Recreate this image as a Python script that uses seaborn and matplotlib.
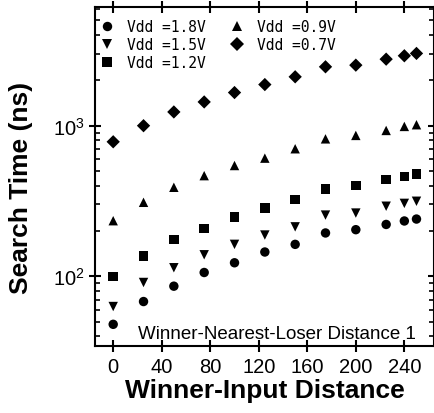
import matplotlib
matplotlib.use("Agg")
import matplotlib.pyplot as plt
import matplotlib.ticker as mticker
import pandas as pd
import seaborn as sns

# values (log y axis, ns)
distance = [0, 25, 50, 75, 100, 125, 150, 175, 200, 225, 240, 250]
vdd_labels = ["Vdd =1.8V", "Vdd =1.5V", "Vdd =1.2V", "Vdd =0.9V", "Vdd =0.7V"]
t_18 = [48, 68, 86, 106, 123, 145, 163, 194, 204, 221, 233, 240]
t_15 = [63, 91, 114, 139, 163, 188, 213, 255, 263, 292, 305, 315]
t_12 = [100, 136, 175, 208, 248, 284, 323, 380, 400, 438, 462, 479]
t_09 = [234, 310, 390, 466, 544, 609, 703, 818, 862, 930, 989, 1015]
t_07 = [782, 1000, 1234, 1438, 1660, 1876, 2112, 2461, 2524, 2766, 2913, 3020]

series = [t_18, t_15, t_12, t_09, t_07]
rows = []
for lab, vals in zip(vdd_labels, series):
    for d, v in zip(distance, vals):
        rows.append({"dist": d, "time": v, "vdd": lab})
df = pd.DataFrame(rows)

sns.set_style("ticks")
plt.rcParams["font.family"] = ["Liberation Sans", "DejaVu Sans"]
plt.rcParams["mathtext.default"] = "regular"
plt.rcParams["text.color"] = "black"
plt.rcParams["axes.labelcolor"] = "black"

fig = plt.figure(figsize=(4.34, 4.14), dpi=100)
ax = fig.add_axes([95 / 434, 1 - 347.3 / 414, 1.0 - 95 / 434 + 0.001, (347.3 - 8) / 414])

markers = dict(zip(vdd_labels, ["o", "v", "s", "^", "D"]))
sns.scatterplot(
    data=df,
    x="dist",
    y="time",
    style="vdd",
    style_order=vdd_labels,
    markers=markers,
    color="black",
    edgecolor="black",
    linewidth=0,
    s=46,
    ax=ax,
)

ax.set_yscale("log")
ax.set_xlim(-15, 264.8)
ax.set_ylim(34.3, 6140)
ax.set_xticks(range(0, 241, 40))
ax.yaxis.set_major_locator(mticker.LogLocator(base=10))
ax.yaxis.set_minor_locator(mticker.LogLocator(base=10, subs=range(2, 10)))
ax.yaxis.set_minor_formatter(mticker.NullFormatter())

for sp in ax.spines.values():
    sp.set_linewidth(1.5)
    sp.set_color("black")

ax.tick_params(which="major", direction="inout", length=9, width=1.5,
               top=True, right=False, labelsize=14.5, pad=3, colors="black")
ax.tick_params(axis="y", which="minor", direction="in", length=3.5, width=1.2,
               left=True, right=True, colors="black")
ax.tick_params(axis="y", which="major", right=True)
ax.tick_params(axis="x", which="minor", bottom=False, top=False)

ax.set_xlabel("Winner-Input Distance", fontsize=19, fontweight="bold", labelpad=2)
ax.set_ylabel("Search Time (ns)", fontsize=19, fontweight="bold")
ax.yaxis.set_label_coords(-0.183, 0.47)

ax.text(0.944, 0.024, "Winner-Nearest-Loser Distance 1", transform=ax.transAxes,
        ha="right", va="baseline", fontsize=13.5, color="black")

sns.move_legend(
    ax, "upper left", bbox_to_anchor=(0.014, 0.965), ncol=2, title=None,
    frameon=False, borderpad=0, borderaxespad=0, handlelength=1.0,
    handletextpad=0.9, columnspacing=1.6, labelspacing=0.2,
    prop={"family": "DejaVu Sans Mono", "size": 10.5},
)

fig.savefig("out.png", dpi=100)
